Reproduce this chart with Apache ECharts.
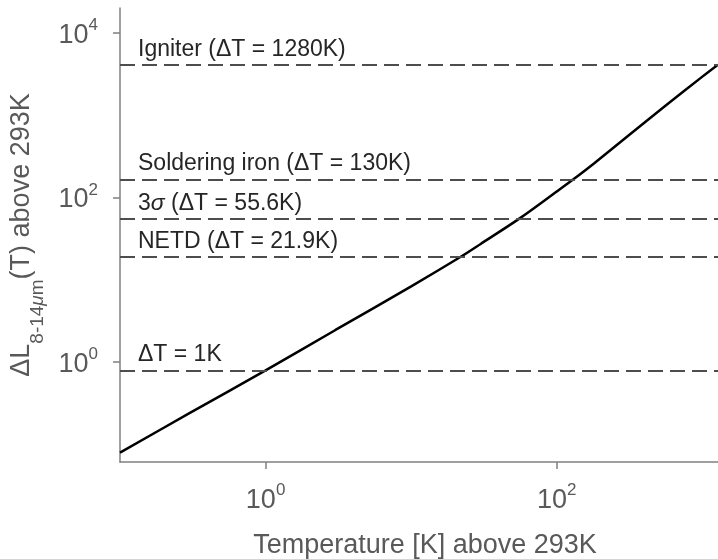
<!DOCTYPE html>
<html>
<head>
<meta charset="utf-8">
<script src="https://cdn.jsdelivr.net/npm/echarts@6/dist/echarts.min.js"></script>
<style>html,body{margin:0;padding:0;background:#fff}#c{width:718px;height:559px}</style>
</head>
<body>
<div id="c"></div>
<script>
// Temperature difference above 293K [K]
const tempDelta = [0.1, 0.3, 1, 3, 10, 21.9, 30, 55.6, 100, 130, 180, 320, 560, 1000, 1280];
// Radiance difference in 8-14 um band
const radianceDelta = [0.079, 0.238, 0.79, 2.43, 8.3, 19.0, 27.2, 55.6, 118, 166, 259, 590, 1312, 2944, 4110];
// Reference levels (dashed lines)
const refNames = ['Igniter (ΔT = 1280K)', 'Soldering iron (ΔT = 130K)', '3{i|σ} (ΔT = 55.6K)', 'NETD (ΔT = 21.9K)', 'ΔT = 1K'];
const refValues = [4110, 165, 55, 18.8, 0.79];
// Tick values
const xTicks = [1, 100];
const yTicks = [1, 100, 10000];

const FONT = '"Liberation Sans", Arial, Helvetica, sans-serif';
const chart = echarts.init(document.getElementById('c'), null, {renderer: 'canvas'});

function powLabel(v) {
  const e = Math.round(Math.log10(v));
  return '{b|10}{s|' + e + '}';
}
const tickRich = {
  b: {fontSize: 27, fontFamily: FONT, color: '#595959', lineHeight: 32, verticalAlign: 'bottom'},
  s: {fontSize: 17, fontFamily: FONT, color: '#595959', lineHeight: 22, verticalAlign: 'top'}
};

const option = {
  animation: false,
  backgroundColor: '#fff',
  grid: {left: 120, right: 0, top: 8, bottom: 97, outerBoundsMode: 'none', containLabel: false},
  xAxis: {
    type: 'log', logBase: 10, min: 0.1, max: 1280,
    name: 'Temperature [K] above 293K', nameLocation: 'middle', nameGap: 70,
    nameTextStyle: {fontSize: 27, fontFamily: FONT, color: '#595959', padding: [0, 0, 0, 12]},
    axisLine: {show: true, onZero: false, lineStyle: {color: '#808080', width: 1.5}},
    axisTick: {show: true, inside: false, length: 7, customValues: xTicks, lineStyle: {color: '#808080', width: 1.5}},
    axisLabel: {customValues: xTicks, margin: 20, formatter: powLabel, rich: tickRich},
    splitLine: {show: false}, minorTick: {show: false}
  },
  yAxis: {
    type: 'log', logBase: 10, min: 0.0607, max: 20100,
    name: '{d|ΔL}{sub|8-14}{subi|μ}{sub|m}{d|(T) above 293K}', nameLocation: 'middle', nameGap: 46,
    nameTextStyle: {
      fontFamily: FONT, color: '#595959',
      rich: {
        d: {fontSize: 27, fontFamily: FONT, color: '#595959', lineHeight: 27, verticalAlign: 'top'},
        sub: {fontSize: 19, fontFamily: FONT, color: '#595959', lineHeight: 40, verticalAlign: 'bottom'},
        subi: {fontSize: 19, fontFamily: FONT, fontStyle: 'italic', color: '#595959', lineHeight: 40, verticalAlign: 'bottom'}
      }
    },
    axisLine: {show: true, onZero: false, lineStyle: {color: '#808080', width: 1.5}},
    axisTick: {show: true, inside: false, length: 7, customValues: yTicks, lineStyle: {color: '#808080', width: 1.5}},
    axisLabel: {customValues: yTicks, margin: 22, formatter: powLabel, rich: tickRich},
    splitLine: {show: false}, minorTick: {show: false}
  },
  series: [{
    type: 'line',
    data: tempDelta.map((t, i) => [t, radianceDelta[i]]),
    smooth: 0.3,
    showSymbol: false,
    lineStyle: {color: '#000', width: 2.5},
    markLine: {
      silent: true,
      symbol: ['none', 'none'],
      lineStyle: {type: [15, 7], color: '#4d4d4d', width: 1.8},
      label: {
        position: 'insideStartTop', distance: [18, 4],
        fontSize: 23, fontFamily: FONT, color: '#262626',
        rich: {i: {fontSize: 23, fontFamily: FONT, fontStyle: 'italic', color: '#262626'}}
      },
      data: refValues.map((v, i) => ({yAxis: v, label: {formatter: refNames[i]}}))
    }
  }]
};
chart.setOption(option);
</script>
</body>
</html>
